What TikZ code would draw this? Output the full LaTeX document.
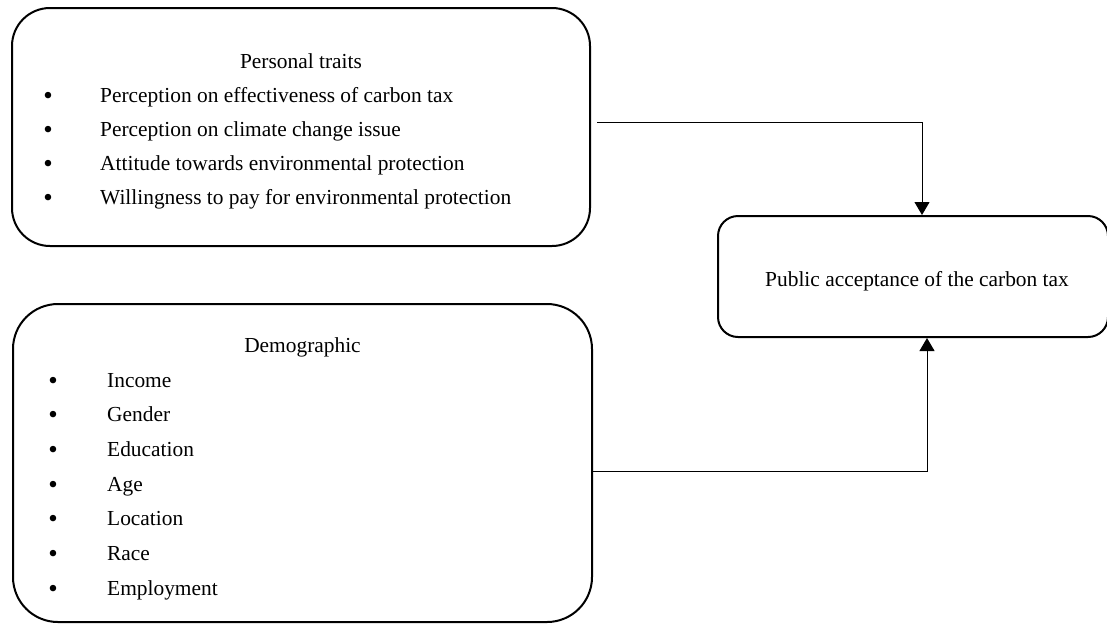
\documentclass[tikz,border=0pt]{standalone}
\usepackage{fontspec}
\setmainfont{Liberation Serif}
\usetikzlibrary{arrows.meta}
\begin{document}
\begin{tikzpicture}[x=1pt,y=-1pt,
  box/.style={draw, line width=2pt, rounded corners=#1, inner sep=0pt},
  head/.style={font=\fontsize{21.4}{34}\selectfont, inner sep=0pt, anchor=base},
  txt/.style={font=\fontsize{21.4}{34}\selectfont, inner sep=0pt, anchor=base west},
  bul/.style={font=\fontsize{27}{34}\selectfont, inner sep=0pt, anchor=base},
  conn/.style={draw, line width=1pt, -{Triangle[width=15pt,length=13pt]}}]
\useasboundingbox (0,0) rectangle (1107,625);
% boxes
\node[box=38pt, minimum width=578pt, minimum height=238pt] (pt) at (301,127) {};
\node[box=45pt, minimum width=579pt, minimum height=318pt] (dm) at (302.5,463) {};
\node[box=20pt, minimum width=390pt, minimum height=121pt] (pub) at (913,276.5) {};
% personal traits
\node[head] (pth) at (301,68) {Personal traits};
\foreach \t [count=\i] in {Perception on effectiveness of carbon tax,
  Perception on climate change issue,
  Attitude towards environmental protection,
  Willingness to pay for environmental protection}{
  \node[bul] (pb\i) at (48,{104+34.3*(\i-1)}) {•};
  \node[txt] (pi\i) at (100,{102+34.3*(\i-1)}) {\t};
}
% demographic
\node[head] (dmh) at (302.5,352) {Demographic};
\foreach \t [count=\i] in {Income,Gender,Education,Age,Location,Race,Employment}{
  \node[bul] (db\i) at (53,{389+34.67*(\i-1)}) {•};
  \node[txt] (di\i) at (107,{387+34.67*(\i-1)}) {\t};
}
% public acceptance
\node[head] (publ) at (917,286) {Public acceptance of the carbon tax};
% connectors
\draw[conn] ([xshift=6pt,yshift=5pt]pt.east) -| ([xshift=9pt]pub.north);
\draw[conn] ([yshift=-8pt]dm.east) -| ([xshift=14pt]pub.south);
\end{tikzpicture}
\end{document}
